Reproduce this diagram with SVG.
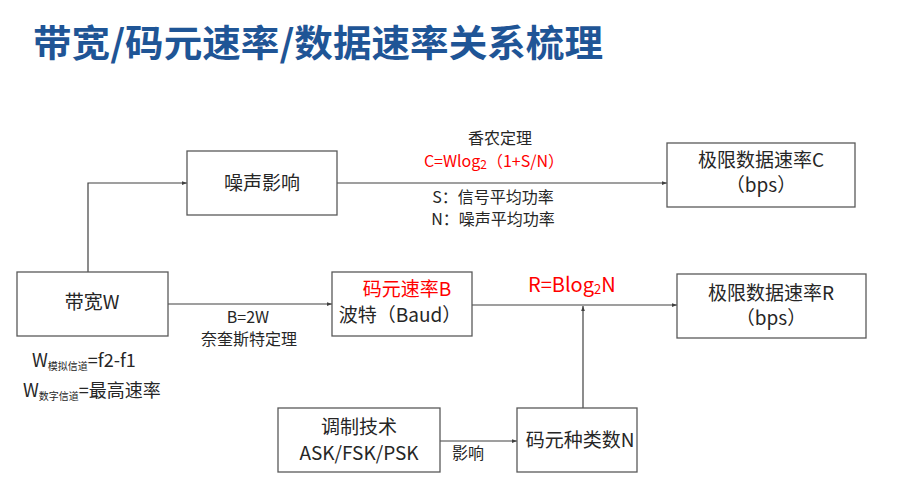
<svg xmlns="http://www.w3.org/2000/svg" width="907" height="493" viewBox="0 0 907 493">
<style>
text{font-family:"Noto Sans CJK SC","Microsoft YaHei",sans-serif;fill:#262626}
.box{fill:#fff;stroke:#595959;stroke-width:1.3}
.t{font-size:19px;text-anchor:middle}
.s{font-size:16px;text-anchor:middle}
.red{fill:#ff0000}
.ln{fill:none;stroke:#404040;stroke-width:1.2;marker-end:url(#ah)}
</style>
<defs>
<marker id="ah" viewBox="0 0 8 6" refX="8" refY="3" markerWidth="5" markerHeight="4" markerUnits="userSpaceOnUse" orient="auto"><path d="M0,0L8,3L0,6z" fill="#404040"/></marker>
</defs>
<rect width="907" height="493" fill="#fff"/>
<text x="33" y="57" font-size="37" font-weight="bold" style="fill:#1F5596" textLength="570" lengthAdjust="spacingAndGlyphs">带宽/码元速率/数据速率关系梳理</text>
<g id="connectors">
<path class="ln" d="M88,272V183H187"/>
<path class="ln" d="M337,183H667"/>
<path class="ln" d="M168,304H332"/>
<path class="ln" d="M472,305H677"/>
<path class="ln" d="M583,408V306"/>
<path class="ln" d="M440,441H517"/>
</g>
<g id="labels">
<text class="s" x="500" y="144" font-size="15.5">香农定理</text>
<text class="s red" x="494" y="167" font-size="18">C=Wlog<tspan font-size="12" dy="2">2</tspan><tspan dy="-2">（1+S/N）</tspan></text>
<text class="s" x="493" y="203" font-size="15.5">S：信号平均功率</text>
<text class="s" x="493" y="225" font-size="15.5">N：噪声平均功率</text>
<text class="s" x="248" y="323" font-size="17">B=2W</text>
<text class="s" x="249" y="345" font-size="17">奈奎斯特定理</text>
<text class="red" x="528" y="292" font-size="20">R=Blog<tspan font-size="13" dy="2">2</tspan><tspan dy="-2">N</tspan></text>
<text x="452" y="459" font-size="16">影响</text>
<text x="32" y="367" font-size="18">W<tspan font-size="10" dy="3">模拟信道</tspan><tspan dy="-3">=f2-f1</tspan></text>
<text x="23" y="397" font-size="18">W<tspan font-size="10" dy="3">数字信道</tspan><tspan dy="-3">=最高速率</tspan></text>
</g>
<g id="noise">
<rect class="box" x="187" y="151" width="150" height="64"/>
<text class="t" x="262" y="190">噪声影响</text>
</g>
<g id="limitC">
<rect class="box" x="667" y="143" width="188" height="64"/>
<text class="t" x="761" y="167">极限数据速率C</text>
<text class="t" x="761" y="192">（bps）</text>
</g>
<g id="bandwidth">
<rect class="box" x="17" y="272" width="151" height="64"/>
<text class="t" x="92" y="309">带宽W</text>
</g>
<g id="baud">
<rect class="box" x="332" y="272" width="140" height="64"/>
<text class="t red" x="407" y="296" font-size="17.5">码元速率B</text>
<text class="t" x="400" y="322" font-size="17.5">波特（Baud）</text>
</g>
<g id="limitR">
<rect class="box" x="677" y="274" width="189" height="64"/>
<text class="t" x="771" y="300">极限数据速率R</text>
<text class="t" x="771" y="325">（bps）</text>
</g>
<g id="modulation">
<rect class="box" x="278" y="408" width="162" height="64"/>
<text class="t" x="359" y="434" font-size="18.5">调制技术</text>
<text class="t" x="359" y="460" font-size="18.5">ASK/FSK/PSK</text>
</g>
<g id="symbols">
<rect class="box" x="517" y="408" width="120" height="64"/>
<text class="t" x="580" y="447" font-size="18">码元种类数N</text>
</g>
</svg>
